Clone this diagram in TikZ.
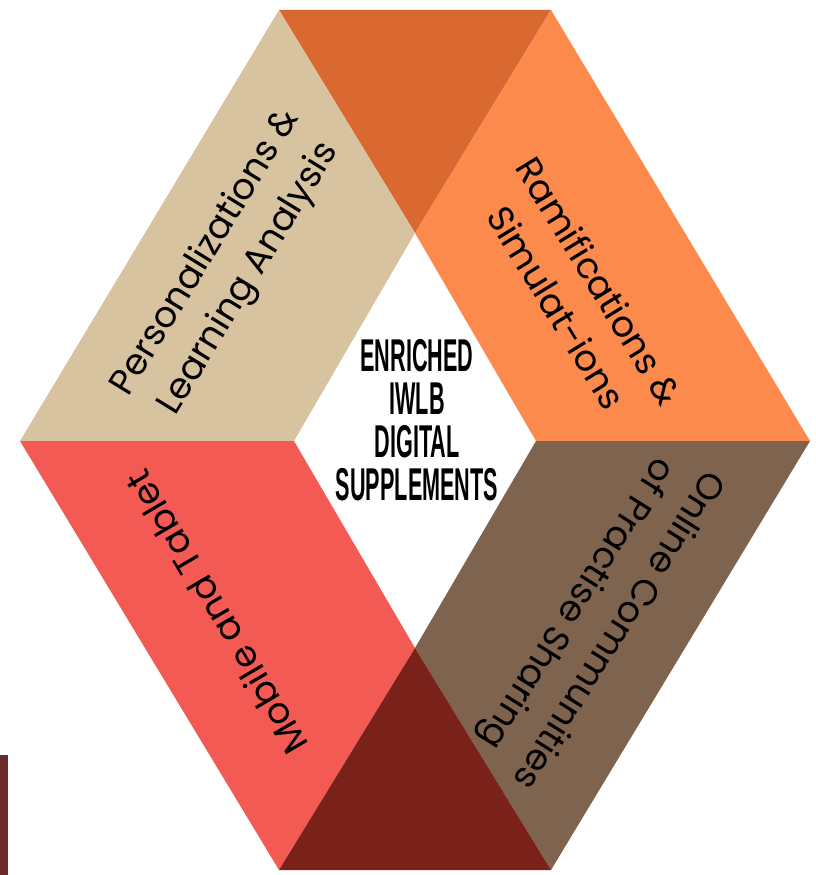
\documentclass[tikz,border=0pt]{standalone}
\usepackage{fontspec}
\setmainfont{Poppins}
\newfontfamily\condfont[FakeStretch=0.47]{Liberation Sans}
\definecolor{ctop}{RGB}{217,105,48}
\definecolor{cbeige}{RGB}{216,195,160}
\definecolor{corange}{RGB}{252,138,76}
\definecolor{csalmon}{RGB}{243,90,84}
\definecolor{cbrown}{RGB}{126,100,78}
\definecolor{cbottom}{RGB}{122,33,25}
\definecolor{cmaroon}{RGB}{110,42,42}
\begin{document}
\begin{tikzpicture}[x=1pt,y=-1pt,
  band/.style={align=center,font=\fontsize{36}{50}\selectfont,text=black,inner sep=0pt},
  hub/.style={align=center,font=\condfont\bfseries\fontsize{46}{43}\selectfont,text=black,inner sep=0pt}]
\useasboundingbox (0,0) rectangle (815,875);
% outer and inner vertices
\coordinate (TL) at (279,10);
\coordinate (TR) at (551,10);
\coordinate (R) at (810,441);
\coordinate (BR) at (551,870);
\coordinate (BL) at (279,870);
\coordinate (L) at (20,441);
\coordinate (iT) at (415,233);
\coordinate (iR) at (536,441);
\coordinate (iB) at (415,648);
\coordinate (iL) at (294,441);
% pieces
\fill[ctop] (TL) -- (TR) -- (iT) -- cycle;
\fill[cbeige] (TL) -- (iT) -- (iL) -- (L) -- cycle;
\fill[corange] (TR) -- (R) -- (iR) -- (iT) -- cycle;
\fill[csalmon] (L) -- (iL) -- (iB) -- (BL) -- cycle;
\fill[cbrown] (iR) -- (R) -- (BR) -- (iB) -- cycle;
\fill[cbottom] (BL) -- (iB) -- (BR) -- cycle;
\fill[cmaroon] (0,755) rectangle (8,875);
% labels
\node[band,rotate=58.5] (pers) at (228,266) {Personalizations \&\\Learning Analysis};
\node[band,rotate=-58.5] (ramif) at (578,294) {Ramifications \&\\Simulat-ions};
\node[band,rotate=120.5] (mobile) at (216,613) {Mobile and Tablet};
\node[band,rotate=-122] (online) at (596,616) {Online Communities\\of Practise Sharing};
\node[hub] (hubtext) at (417,420) {ENRICHED\\IWLB\\DIGITAL\\SUPPLEMENTS};
\end{tikzpicture}
\end{document}
